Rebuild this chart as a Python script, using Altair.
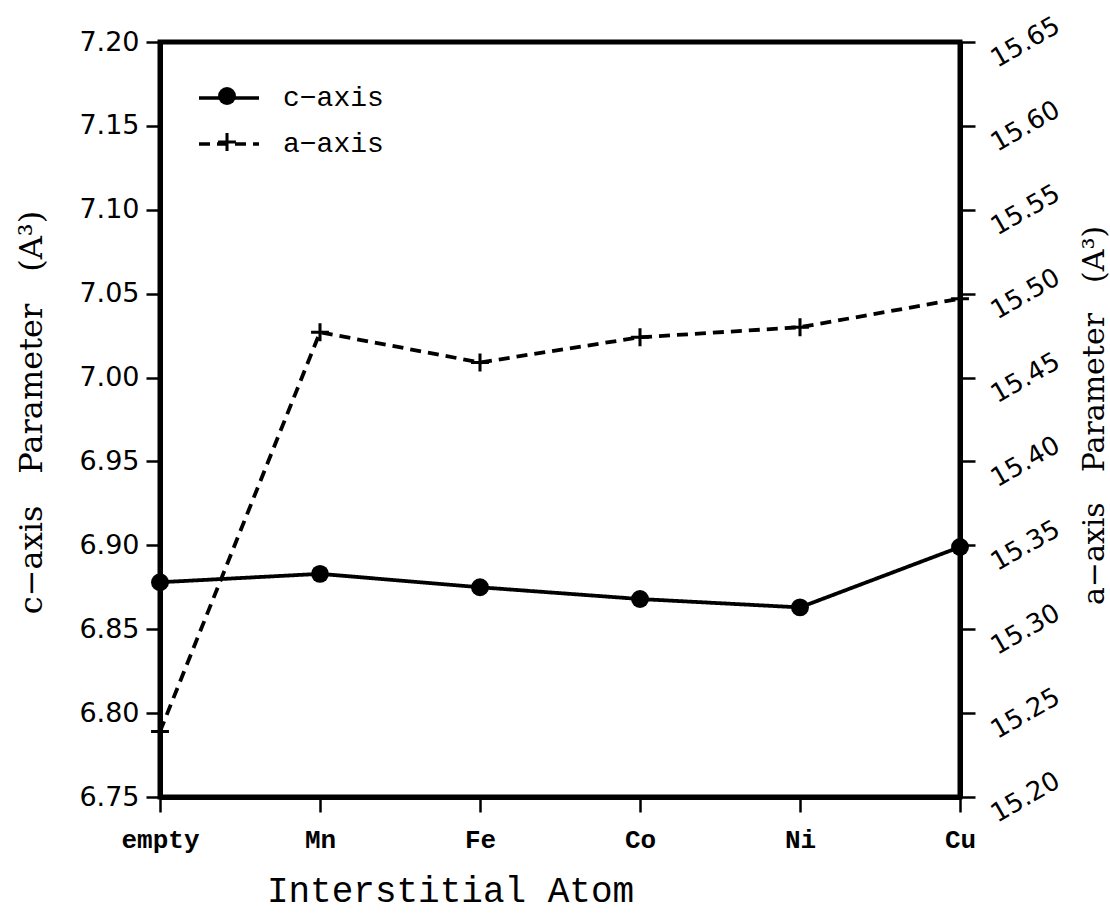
import altair as alt
import pandas as pd

atoms = ["empty", "Mn", "Fe", "Co", "Ni", "Cu"]
c_axis = [6.878, 6.883, 6.875, 6.868, 6.863, 6.899]
a_axis = [15.239, 15.477, 15.459, 15.474, 15.480, 15.497]
series_names = ["c\u2212axis", "a\u2212axis"]
marker_names = ["c marker", "a marker"]
c_ticks = [6.75, 6.80, 6.85, 6.90, 6.95, 7.00, 7.05, 7.10, 7.15, 7.20]
a_ticks = [15.20, 15.25, 15.30, 15.35, 15.40, 15.45, 15.50, 15.55, 15.60, 15.65]

rows = []
for i, at in enumerate(atoms):
    rows.append({"atom": at, "series": series_names[0], "marker": marker_names[0], "value": c_axis[i]})
    rows.append({"atom": at, "series": series_names[1], "marker": marker_names[1], "value": a_axis[i]})
df = pd.DataFrame(rows)

MONO = "Liberation Mono"
SANS = "DejaVu Sans"
SERIF = "DejaVu Serif"

# thin filled cross, so it renders the same in the plot and in the legend
PLUS = "M-1,-0.17H-0.17V-1H0.17V-0.17H1V0.17H0.17V1H-0.17V0.17H-1Z"

x_enc = alt.X(
    "atom:N", sort=atoms, scale=alt.Scale(type="point", padding=0),
    axis=alt.Axis(
        title="Interstitial Atom", labelFont=MONO, labelFontSize=26,
        labelFontWeight="bold",
        labelAngle=0, tickSize=15, labelPadding=14,
        titleFont=MONO, titleFontSize=36, titleX=290, titleY=93,
        titleAlign="center", titleBaseline="middle",
    ),
)

dash_enc = alt.StrokeDash(
    "series:N",
    scale=alt.Scale(domain=series_names, range=[[1, 0], [11, 7]]),
    legend=alt.Legend(
        title=None, orient="none", legendX=37, legendY=24, padding=0,
        symbolType="stroke", symbolSize=3600, symbolStrokeWidth=3.5,
        symbolStrokeColor="black", labelFont=MONO, labelFontSize=28,
        labelOffset=22, rowPadding=-25, labelColor="black",
    ),
)
shape_enc = alt.Shape(
    "marker:N",
    scale=alt.Scale(domain=marker_names, range=["circle", PLUS]),
    legend=alt.Legend(
        title=None, orient="none", legendX=58, legendY=45, padding=0,
        symbolSize=320, symbolStrokeWidth=0, symbolFillColor="black",
        labelExpr="''", labelFontSize=1, labelOffset=0, rowPadding=28,
    ),
)

c_y = alt.Y(
    "value:Q", scale=alt.Scale(domain=[6.75, 7.20], zero=False, nice=False),
    axis=alt.Axis(
        orient="left", values=c_ticks, format=".2f", labelFont=SANS,
        labelFontSize=27, tickSize=14, labelPadding=7, labelOverlap=False,
        title="c\u2212axis\u2003Parameter\u2003(A\u00b3)", titleFont=SERIF,
        titleFontSize=32, titleAngle=270, titleX=-129, titleY=370,
        titleAlign="center", titleBaseline="middle",
    ),
)
a_y = alt.Y(
    "value:Q", scale=alt.Scale(domain=[15.20, 15.65], zero=False, nice=False),
    axis=alt.Axis(
        orient="right", values=a_ticks, format=".2f", labelFont=SANS,
        labelFontSize=26, tickSize=15, labelPadding=50, labelAngle=330,
        labelAlign="center", labelBaseline="middle", labelOverlap=False,
        title="a\u2212axis\u2003Parameter\u2003(A\u00b3)", titleFont=SERIF,
        titleFontSize=30, titleAngle=270, titleX=134, titleY=373,
        titleAlign="center", titleBaseline="middle",
    ),
)

base = alt.Chart(df)

c_line = base.transform_filter(alt.datum.series == series_names[0]).mark_line(
    color="black", strokeWidth=3.8
).encode(x=x_enc, y=c_y, strokeDash=dash_enc)
c_pts = base.transform_filter(alt.datum.series == series_names[0]).mark_point(
    filled=True, color="black", strokeWidth=0, opacity=1, size=320
).encode(x=x_enc, y=c_y, shape=shape_enc)

a_line = base.transform_filter(alt.datum.series == series_names[1]).mark_line(
    color="black", strokeWidth=3.8
).encode(x=x_enc, y=a_y, strokeDash=dash_enc)
a_pts = base.transform_filter(alt.datum.series == series_names[1]).mark_point(
    filled=True, color="black", strokeWidth=0, opacity=1, size=320
).encode(x=x_enc, y=a_y, shape=shape_enc)

c_layer = alt.layer(c_line, c_pts)
a_layer = alt.layer(a_line, a_pts)

chart = (
    alt.layer(c_layer, a_layer)
    .resolve_scale(y="independent")
    .properties(
        width=800, height=755,
        autosize=alt.AutoSizeParams(type="none"),
        padding={"left": 160, "top": 42, "right": 150, "bottom": 118},
        background="white",
    )
    .configure_view(stroke="black", strokeWidth=5)
    .configure_axis(
        domainColor="black", domainWidth=5, tickColor="black", tickWidth=2.5,
        grid=False, labelColor="black", titleColor="black", titleFontWeight="normal",
    )
)

chart.save("out.html", embed_options={"renderer": "svg", "actions": False})
